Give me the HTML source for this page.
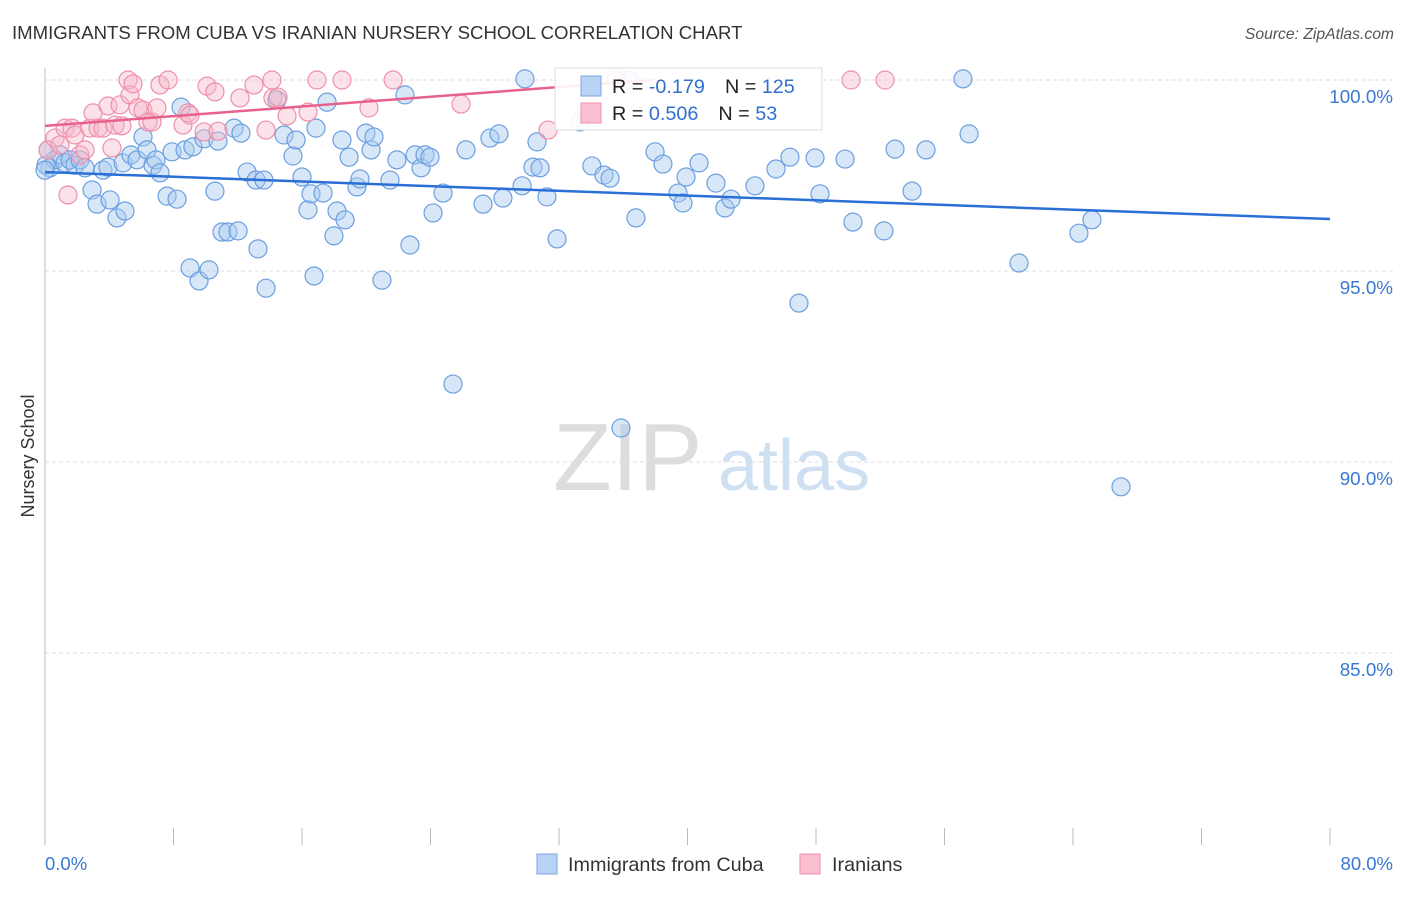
<!DOCTYPE html>
<html><head><meta charset="utf-8"><style>
body{margin:0;background:#fff;font-family:"Liberation Sans",sans-serif;}
svg text{font-family:"Liberation Sans",sans-serif;}
</style></head><body>
<svg id="c" width="1406" height="892" viewBox="0 0 1406 892">
<text x="12" y="39" font-size="18.6" fill="#333">IMMIGRANTS FROM CUBA VS IRANIAN NURSERY SCHOOL CORRELATION CHART</text>
<text x="1394" y="39" font-size="15.7" fill="#555" font-style="italic" text-anchor="end">Source: ZipAtlas.com</text>
<text x="34" y="456" font-size="18" fill="#333" text-anchor="middle" transform="rotate(-90 34 456)">Nursery School</text>
<g>
<text x="553" y="490" font-size="96" fill="#ddd" font-family="Liberation Serif">ZIP</text>
<text x="718" y="490" font-size="72" fill="#cfe0f3">atlas</text>
</g>
<g id="grid"></g><g id="pts"></g><g id="lines"></g>
<g>
<rect x="555" y="68" width="267" height="62" fill="#fff" fill-opacity="0.9" stroke="#ddd"/>
<rect x="581" y="76" width="20" height="20" fill="#b8d3f3" stroke="#7aa6e0"/>
<rect x="581" y="103" width="20" height="20" fill="#f8c0d0" stroke="#ee90ad"/>
<text x="612" y="93" font-size="19.8" fill="#222">R = <tspan fill="#2f6fd0">-0.179</tspan><tspan dx="20">N = </tspan><tspan fill="#2f6fd0">125</tspan></text>
<text x="612" y="120" font-size="19.8" fill="#222">R = <tspan fill="#2f6fd0"> 0.506</tspan><tspan dx="20">N = </tspan><tspan fill="#2f6fd0">  53</tspan></text>
</g>
<g>
<rect x="537" y="854" width="20" height="20" fill="#b8d3f3" stroke="#7aa6e0"/>
<text x="568" y="871" font-size="19.8" fill="#333">Immigrants from Cuba</text>
<rect x="800" y="854" width="20" height="20" fill="#f8c0d0" stroke="#ee90ad"/>
<text x="832" y="871" font-size="19.8" fill="#333">Iranians</text>
</g>
<text x="45" y="870" font-size="18.5" fill="#3a78d4">0.0%</text>
<text x="1393" y="870" font-size="18.5" fill="#3a78d4" text-anchor="end">80.0%</text>
</svg>
<script>
const yTicks=[100,95,90,85];
const yTickLabels=["100.0%","95.0%","90.0%","85.0%"];
const xTicks=[0,8,16,24,32,40,48,56,64,72,80];
const cubaX=[0.31,0.62,0.93,1.25,1.56,1.87,2.18,2.49,2.93,3.24,3.61,3.92,4.05,4.48,4.98,4.86,5.35,5.73,6.10,6.35,6.72,6.91,7.16,7.60,7.91,8.22,8.47,8.72,9.03,9.21,9.59,9.90,10.21,10.58,10.77,11.02,11.39,11.77,12.02,12.20,12.58,13.14,13.26,13.63,13.76,14.44,14.88,15.44,15.63,16.00,16.37,16.56,16.87,16.75,17.31,17.56,17.99,18.18,18.68,18.49,18.93,19.42,19.61,19.98,20.30,20.48,20.98,21.48,21.91,22.41,22.72,23.04,23.41,23.66,23.97,24.16,24.78,25.40,26.21,27.27,27.70,28.26,28.51,29.70,29.88,30.38,30.63,30.82,31.25,31.88,33.31,34.05,34.80,35.18,36.36,36.79,37.98,38.47,39.41,39.72,39.91,40.72,41.77,42.33,42.71,44.20,45.51,46.38,46.94,47.94,48.25,49.81,50.30,52.23,52.92,53.98,54.85,57.15,57.53,60.64,64.37,65.18,66.99,35.86,0.06,0.19,0.0];
const cubaY=[97.70,97.91,98.04,97.83,97.91,97.77,97.91,97.70,97.12,96.75,97.64,97.72,96.86,96.39,96.57,97.83,98.04,97.91,98.51,98.17,97.77,97.91,97.57,96.96,98.12,96.88,99.29,98.17,95.08,98.25,94.74,98.46,95.03,97.09,98.40,96.02,96.02,98.74,96.05,98.61,97.59,97.38,95.58,97.38,94.55,99.48,98.56,98.01,98.43,97.46,96.60,97.02,98.74,94.87,97.04,99.42,95.92,96.57,96.34,98.43,97.98,97.20,97.41,98.61,98.17,98.51,94.76,97.38,97.91,99.61,95.68,98.04,97.70,98.04,97.98,96.52,97.04,92.04,98.17,96.75,98.48,98.59,96.91,97.23,100.03,97.72,98.38,97.70,96.94,95.84,98.90,97.75,97.51,97.43,100.0,96.39,98.12,97.80,97.04,96.78,97.46,97.83,97.30,96.65,96.88,97.23,97.67,97.98,94.16,97.96,97.02,97.93,96.28,96.05,98.19,97.09,98.17,100.03,98.59,95.21,95.99,96.34,89.35,90.89,97.77,98.17,97.64];
const iranX=[0.19,0.62,0.93,1.25,1.43,1.68,1.87,2.18,2.49,2.80,2.99,3.30,3.61,3.92,4.17,4.36,4.67,4.79,5.17,5.29,5.48,5.79,6.10,6.41,6.66,6.97,7.16,7.66,8.59,8.90,9.03,9.90,10.09,10.58,10.77,12.14,13.01,13.76,14.13,14.19,14.51,15.07,16.37,16.93,18.49,20.17,21.67,25.90,31.32,33.62,35.55,50.18,52.30];
const iranY=[98.17,98.48,98.30,98.74,96.99,98.74,98.56,98.04,98.17,98.74,99.14,98.74,98.74,99.32,98.22,98.82,99.35,98.80,100.0,99.61,99.90,99.27,99.21,98.90,98.90,99.27,99.87,100.0,98.82,99.14,99.08,98.64,99.84,99.69,98.66,99.53,99.87,98.69,100.0,99.53,99.55,99.06,99.16,100.0,100.0,99.27,100.0,99.37,98.69,99.16,100.0,100.0,100.0];
const cubaTrendX=[0,80], cubaTrendY=[97.59,96.36];
const iranTrendX=[0,37.85], iranTrendY=[98.80,100.0];
const NS="http://www.w3.org/2000/svg";
const X0=45,X1=1330,Y100=80,PPU=38.2;
const sx=v=>X0+(v/80)*(X1-X0);
const sy=v=>Y100+(100-v)*PPU;
function mk(tag,attrs,parent){const e=document.createElementNS(NS,tag);for(const k in attrs)e.setAttribute(k,attrs[k]);parent.appendChild(e);return e;}
const grid=document.getElementById('grid');
const axis=mk('line',{x1:X0,y1:68,x2:X0,y2:845,stroke:'#bbb'},grid);


yTicks.forEach((t,i)=>{
 const g=mk('line',{x1:X0,x2:1393,y1:sy(t),y2:sy(t),stroke:'#ddd','stroke-dasharray':'4,3'},grid);
 
 
 const tx=mk('text',{x:1393,y:sy(t)+23,'font-size':18.8,fill:'#3a78d4','text-anchor':'end'},grid);
 tx.textContent=yTickLabels[i];
 
 
});
xTicks.forEach(t=>{
 const l=mk('line',{x1:sx(t),x2:sx(t),y1:828,y2:845,stroke:'#bbb'},grid);
 
 
});
const pts=document.getElementById('pts');
cubaX.forEach((x,i)=>{
 const c=mk('circle',{cx:sx(x),cy:sy(cubaY[i]),r:9,fill:'#a9c9f0','fill-opacity':0.45,stroke:'#6b9fe0','stroke-width':1.2},pts);
 
 
});
iranX.forEach((x,i)=>{
 const c=mk('circle',{cx:sx(x),cy:sy(iranY[i]),r:9,fill:'#f6b6c8','fill-opacity':0.4,stroke:'#ee8fac','stroke-width':1.2},pts);
 
 
});
const lines=document.getElementById('lines');
const l1=mk('line',{x1:sx(cubaTrendX[0]),y1:sy(cubaTrendY[0]),x2:sx(cubaTrendX[1]),y2:sy(cubaTrendY[1]),stroke:'#2a6fd6','stroke-width':2.5},lines);


const l2=mk('line',{x1:sx(iranTrendX[0]),y1:sy(iranTrendY[0]),x2:sx(iranTrendX[1]),y2:sy(iranTrendY[1]),stroke:'#e8618c','stroke-width':2.5},lines);


</script>
</body></html>
